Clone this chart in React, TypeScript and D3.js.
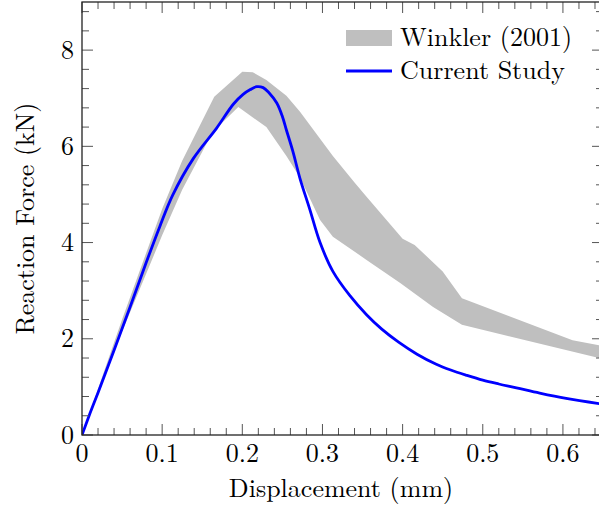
import React from "react";
import * as d3 from "d3";

const W = 599;
const H = 512;

// Winkler (2001) band — upper and lower bounds (displacement mm, force kN)
const bandUpperX = [0, 0.05, 0.1, 0.125, 0.165, 0.2, 0.213, 0.23, 0.255, 0.272, 0.313, 0.34, 0.355, 0.4, 0.415, 0.45, 0.474, 0.612, 0.65];
const bandUpperY = [0, 2.4, 4.7, 5.7, 7.03, 7.55, 7.54, 7.38, 7.05, 6.72, 5.8, 5.25, 4.95, 4.08, 3.95, 3.4, 2.84, 1.97, 1.85];
const bandLowerX = [0, 0.05, 0.1, 0.125, 0.163, 0.195, 0.23, 0.255, 0.272, 0.297, 0.313, 0.355, 0.397, 0.438, 0.474, 0.65];
const bandLowerY = [0, 2.15, 4.15, 5.1, 6.3, 6.82, 6.4, 5.8, 5.35, 4.47, 4.12, 3.64, 3.16, 2.66, 2.29, 1.58];

// Current Study curve
const studyX = [0, 0.01, 0.02, 0.04, 0.06, 0.08, 0.097, 0.113, 0.139, 0.168, 0.189, 0.201, 0.21, 0.218, 0.226, 0.233, 0.243, 0.25, 0.255, 0.263, 0.272, 0.284, 0.297, 0.313, 0.334, 0.355, 0.374, 0.395, 0.418, 0.442, 0.46, 0.48, 0.5, 0.52, 0.542, 0.571, 0.604, 0.65];
const studyY = [0, 0.45, 0.88, 1.76, 2.66, 3.58, 4.33, 4.98, 5.75, 6.38, 6.88, 7.08, 7.18, 7.24, 7.22, 7.12, 6.9, 6.62, 6.34, 5.9, 5.33, 4.7, 4.0, 3.4, 2.9, 2.5, 2.2, 1.93, 1.68, 1.47, 1.35, 1.24, 1.14, 1.06, 0.98, 0.87, 0.76, 0.64];

const xMajor = [0, 0.1, 0.2, 0.3, 0.4, 0.5, 0.6];
const xMajorLabels = ["0", "0.1", "0.2", "0.3", "0.4", "0.5", "0.6"];
const yMajor = [0, 2, 4, 6, 8];
const yMajorLabels = ["0", "2", "4", "6", "8"];

const FONT = `"Latin Modern Roman", "Liberation Serif", serif`;

export default function App() {
  const left = 82, right = 603, top = 2, bottom = 435;
  const x = d3.scaleLinear().domain([0, 0.65]).range([left, right]);
  const y = d3.scaleLinear().domain([0, 9]).range([bottom, top]);

  const upper = bandUpperX.map((v, i) => [v, bandUpperY[i]] as [number, number]);
  const lower = bandLowerX.map((v, i) => [v, bandLowerY[i]] as [number, number]);
  const poly = upper.concat(lower.slice().reverse());
  const bandPath = "M" + poly.map((p) => `${x(p[0])},${y(p[1])}`).join("L") + "Z";

  const study = studyX.map((v, i) => [v, studyY[i]] as [number, number]);
  const line = d3
    .line<[number, number]>()
    .x((d) => x(d[0]))
    .y((d) => y(d[1]))
    .curve(d3.curveCatmullRom.alpha(0.5));

  const xMinor = d3.range(0, 66).map((i) => i * 0.02).filter((v) => v <= 0.65 + 1e-9 && Math.abs(Math.round(v * 10) - v * 10) > 1e-6);
  const yMinor = d3.range(0, 23).map((i) => i * 0.4).filter((v) => v <= 9 + 1e-9 && Math.abs(v / 2 - Math.round(v / 2)) > 1e-6);

  const tickColor = "#555";
  const maj = 11, mnr = 7;
  const textStyle = { fontFamily: FONT };

  return (
    <svg width={W} height={H} style={{ position: "fixed", left: 0, top: 0, background: "#fff" }}>
      <defs>
        <clipPath id="plot">
          <rect x={left} y={top} width={right - left} height={bottom - top} />
        </clipPath>
      </defs>
      <g clipPath="url(#plot)">
        <path d={bandPath} fill="#bfbfbf" stroke="none" />
        <path d={line(study) || ""} fill="none" stroke="#0000ff" strokeWidth={2.8} strokeLinejoin="round" />
      </g>
      {/* ticks */}
      <g stroke={tickColor} strokeWidth={1}>
        {xMajor.map((v) => (
          <g key={"xm" + v}>
            <line x1={x(v)} x2={x(v)} y1={bottom} y2={bottom - maj} />
            <line x1={x(v)} x2={x(v)} y1={top} y2={top + maj} />
          </g>
        ))}
        {xMinor.map((v) => (
          <g key={"xn" + v}>
            <line x1={x(v)} x2={x(v)} y1={bottom} y2={bottom - mnr} />
            <line x1={x(v)} x2={x(v)} y1={top} y2={top + mnr} />
          </g>
        ))}
        {yMajor.map((v) => (
          <g key={"ym" + v}>
            <line x1={left} x2={left + maj} y1={y(v)} y2={y(v)} />
            <line x1={right} x2={right - maj} y1={y(v)} y2={y(v)} />
          </g>
        ))}
        {yMinor.map((v) => (
          <g key={"yn" + v}>
            <line x1={left} x2={left + mnr} y1={y(v)} y2={y(v)} />
            <line x1={right} x2={right - mnr} y1={y(v)} y2={y(v)} />
          </g>
        ))}
      </g>
      {/* frame */}
      <rect x={left} y={top} width={right - left} height={bottom - top} fill="none" stroke="#222" strokeWidth={1.3} />
      {/* tick labels */}
      <g fontSize={26} fill="#000" style={textStyle}>
        {xMajor.map((v, i) => (
          <text key={"xl" + v} x={x(v)} y={462} textAnchor="middle" style={textStyle}>
            {xMajorLabels[i]}
          </text>
        ))}
        {yMajor.map((v, i) => (
          <text key={"yl" + v} x={74} y={y(v) + 8.5} textAnchor="end" style={textStyle}>
            {yMajorLabels[i]}
          </text>
        ))}
      </g>
      {/* axis labels */}
      <text x={341} y={497} textAnchor="middle" fontSize={26} style={textStyle}>
        Displacement (mm)
      </text>
      <text transform={`translate(34,${(top + bottom) / 2}) rotate(-90)`} textAnchor="middle" fontSize={26} style={textStyle}>
        Reaction Force (kN)
      </text>
      {/* legend */}
      <rect x={346} y={30} width={46} height={16} fill="#bfbfbf" />
      <text x={400} y={46} fontSize={26} style={textStyle}>Winkler (2001)</text>
      <line x1={346} x2={392} y1={71} y2={71} stroke="#0000ff" strokeWidth={2.8} />
      <text x={400} y={79} fontSize={26} style={textStyle}>Current Study</text>
    </svg>
  );
}
